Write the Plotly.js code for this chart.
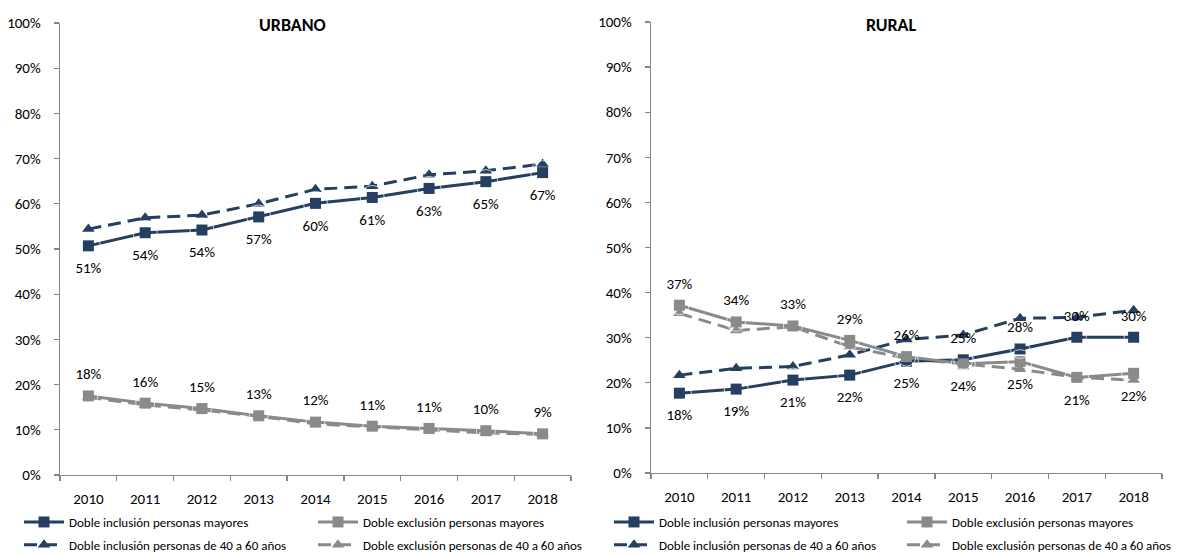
<!DOCTYPE html>
<html>
<head>
<meta charset="utf-8">
<script src="https://cdn.plot.ly/plotly-3.0.1.min.js"></script>
<style>html,body{margin:0;padding:0;background:#fff}#chart{width:1177px;height:555px}</style>
</head>
<body>
<div id="chart"></div>
<script>
// ---- data ----
const years = ['2010','2011','2012','2013','2014','2015','2016','2017','2018'];

const seriesNames = [
  'Doble inclusión personas mayores',
  'Doble inclusión personas de 40 a 60 años',
  'Doble exclusión personas mayores',
  'Doble exclusión personas de 40 a 60 años'
];

// URBANO
const urbInclMay   = [50.7, 53.6, 54.2, 57.1, 60.1, 61.4, 63.4, 64.9, 66.9];
const urbIncl4060  = [54.4, 56.9, 57.5, 60.0, 63.2, 63.9, 66.4, 67.3, 68.8];
const urbExclMay   = [17.5, 15.9, 14.7, 13.1, 11.7, 10.8, 10.3, 9.8, 9.1];
const urbExcl4060  = [17.2, 15.5, 14.4, 13.0, 11.3, 10.7, 10.0, 9.3, 9.0];
const urbInclMayLbl = ['51%','54%','54%','57%','60%','61%','63%','65%','67%'];
const urbExclMayLbl = ['18%','16%','15%','13%','12%','11%','11%','10%','9%'];

// RURAL
const rurInclMay   = [17.7, 18.6, 20.6, 21.7, 24.8, 25.1, 27.5, 30.1, 30.1];
const rurIncl4060  = [21.7, 23.2, 23.6, 26.2, 29.6, 30.6, 34.3, 34.5, 36.1];
const rurExclMay   = [37.2, 33.5, 32.6, 29.4, 25.8, 24.2, 24.7, 21.2, 22.1];
const rurExcl4060  = [35.4, 31.6, 32.4, 28.0, 25.4, 24.2, 23.0, 21.2, 20.6];
const rurInclMayLbl = ['18%','19%','21%','22%','25%','25%','28%','30%','30%'];
const rurExclMayLbl = ['37%','34%','33%','29%','26%','24%','25%','21%','22%'];

const yTickVals = [0,10,20,30,40,50,60,70,80,90,100];
const yTickText = ['0%','10%','20%','30%','40%','50%','60%','70%','80%','90%','100%'];

// ---- styling ----
const NAVY = '#243F60';
const GRAY = '#8A8A8A';
const FONT = 'Carlito, Calibri, "Liberation Sans Narrow", "Liberation Sans", Arial, sans-serif';
const DASH = '13px,7px';

function lineTrace(y, name, color, dash, symbol, xa, ya, leg, grp, rank) {
  return {
    type: 'scatter', mode: 'lines+markers', x: years, y: y, name: name,
    xaxis: xa, yaxis: ya, legend: leg, legendgroup: grp, legendrank: rank,
    line: {color: color, width: 3, dash: dash},
    marker: {color: color, symbol: symbol, size: 11},
    hoverinfo: 'x+y+name'
  };
}
function labelTrace(y, labels, positions, xa, ya) {
  return {
    type: 'scatter', mode: 'markers+text', x: years, y: y, text: labels,
    xaxis: xa, yaxis: ya, showlegend: false, hoverinfo: 'skip',
    textposition: positions.map(p => p === 'b' ? 'bottom center' : 'top center'),
    marker: {size: positions.map(p => p === 'b' ? 24 : 19), color: 'rgba(0,0,0,0)'},
    textfont: {family: FONT, size: 15, color: '#000'}
  };
}

const urbInclPos = ['b','b','b','b','b','b','b','b','b'];
const urbExclPos = ['t','t','t','t','t','t','t','t','t'];
const rurInclPos = ['b','b','b','b','b','t','t','t','t'];
const rurExclPos = ['t','t','t','t','t','b','b','b','b'];

const data = [
  // left
  lineTrace(urbIncl4060, seriesNames[1], NAVY, DASH, 'triangle-up', 'x', 'y', 'legend', 'l2', 2),
  lineTrace(urbExcl4060, seriesNames[3], GRAY, DASH, 'triangle-up', 'x', 'y', 'legend2', 'l4', 2),
  lineTrace(urbInclMay, seriesNames[0], NAVY, 'solid', 'square', 'x', 'y', 'legend', 'l1', 1),
  lineTrace(urbExclMay, seriesNames[2], GRAY, 'solid', 'square', 'x', 'y', 'legend2', 'l3', 1),
  labelTrace(urbInclMay, urbInclMayLbl, urbInclPos, 'x', 'y'),
  labelTrace(urbExclMay, urbExclMayLbl, urbExclPos, 'x', 'y'),
  // right
  lineTrace(rurIncl4060, seriesNames[1], NAVY, DASH, 'triangle-up', 'x2', 'y2', 'legend3', 'r2', 2),
  lineTrace(rurExcl4060, seriesNames[3], GRAY, DASH, 'triangle-up', 'x2', 'y2', 'legend4', 'r4', 2),
  lineTrace(rurInclMay, seriesNames[0], NAVY, 'solid', 'square', 'x2', 'y2', 'legend3', 'r1', 1),
  lineTrace(rurExclMay, seriesNames[2], GRAY, 'solid', 'square', 'x2', 'y2', 'legend4', 'r3', 1),
  labelTrace(rurInclMay, rurInclMayLbl, rurInclPos, 'x2', 'y2'),
  labelTrace(rurExclMay, rurExclMayLbl, rurExclPos, 'x2', 'y2')
];

const W = 1177, H = 555;
function xa(l, r) {
  return {
    domain: [l / W, r / W], type: 'category', range: [-0.5, 8.5],
    showline: true, linecolor: '#868686', linewidth: 1.3,
    ticks: 'outside', ticklen: 5, tickcolor: '#868686', tickwidth: 1.3,
    tickson: 'boundaries', showgrid: false, zeroline: false,
    tickfont: {family: FONT, size: 15, color: '#000'}, ticklabelstandoff: 10,
    fixedrange: true
  };
}
function ya(t, b) {
  return {
    domain: [(H - b) / H, (H - t) / H], range: [0, 100],
    tickmode: 'array', tickvals: yTickVals, ticktext: yTickText,
    showline: true, linecolor: '#868686', linewidth: 1.3,
    ticks: 'outside', ticklen: 5, tickcolor: '#868686', tickwidth: 1.3,
    showgrid: false, zeroline: false,
    tickfont: {family: FONT, size: 15, color: '#000'}, ticklabelstandoff: 10,
    fixedrange: true
  };
}
function leg(xpx, ypx) {
  return {
    x: xpx / W, y: (H - ypx) / H, xanchor: 'left', yanchor: 'top',
    orientation: 'v', bgcolor: 'rgba(0,0,0,0)', borderwidth: 0,
    font: {family: FONT, size: 13, color: '#000'},
    tracegroupgap: 3, itemwidth: 40, traceorder: 'grouped'
  };
}

const layout = {
  width: W, height: H, margin: {l: 0, r: 0, t: 0, b: 0, autoexpand: false},
  paper_bgcolor: '#fff', plot_bgcolor: '#fff',
  font: {family: FONT, size: 12, color: '#000'},
  xaxis: xa(60, 571), yaxis: ya(23, 475),
  xaxis2: Object.assign(xa(651, 1162), {anchor: 'y2'}),
  yaxis2: Object.assign(ya(22, 473), {anchor: 'x2'}),
  legend: leg(19, 507), legend2: leg(313, 507),
  legend3: leg(609, 507), legend4: leg(902, 507),
  annotations: [
    {text: '<b>URBANO</b>', xref: 'paper', yref: 'paper', x: 292 / W, y: (H - 25) / H,
     xanchor: 'center', yanchor: 'middle', showarrow: false, font: {family: FONT, size: 18, color: '#000'}},
    {text: '<b>RURAL</b>', xref: 'paper', yref: 'paper', x: 891 / W, y: (H - 25) / H,
     xanchor: 'center', yanchor: 'middle', showarrow: false, font: {family: FONT, size: 18, color: '#000'}}
  ],
  showlegend: true
};

Plotly.newPlot('chart', data, layout, {displayModeBar: false, staticPlot: true});
</script>
</body>
</html>
